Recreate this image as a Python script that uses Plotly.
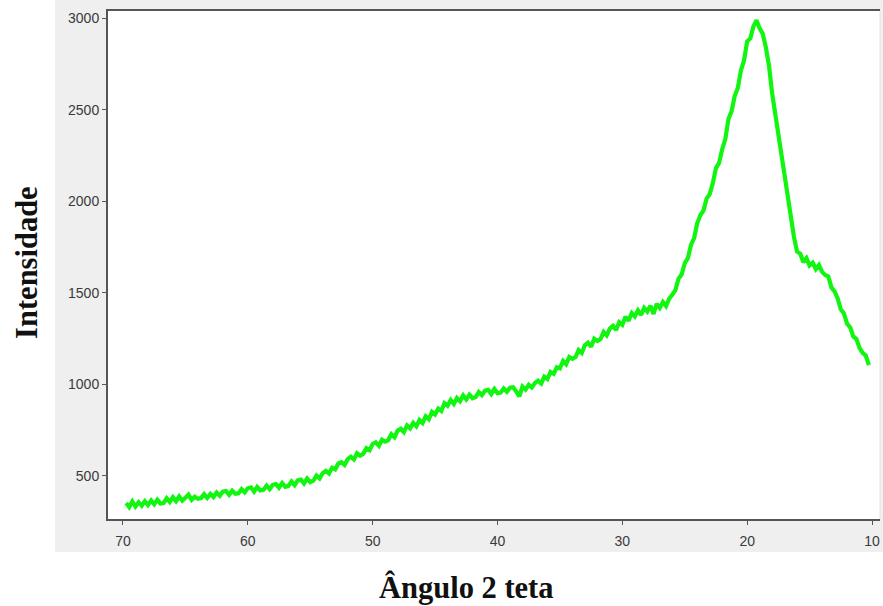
import plotly.graph_objects as go

# Diffraction angle 2θ (degrees)
angles = [
    69.75, 69.5, 69.25, 69.0, 68.75, 68.5, 68.25, 68.0, 67.75, 67.5, 67.25, 67.0,
    66.75, 66.5, 66.25, 66.0, 65.75, 65.5, 65.25, 65.0, 64.75, 64.5, 64.25, 64.0,
    63.75, 63.5, 63.25, 63.0, 62.75, 62.5, 62.25, 62.0, 61.75, 61.5, 61.25, 61.0,
    60.75, 60.5, 60.25, 60.0, 59.75, 59.5, 59.25, 59.0, 58.75, 58.5, 58.25, 58.0,
    57.75, 57.5, 57.25, 57.0, 56.75, 56.5, 56.25, 56.0, 55.75, 55.5, 55.25, 55.0,
    54.75, 54.5, 54.25, 54.0, 53.75, 53.5, 53.25, 53.0, 52.75, 52.5, 52.25, 52.0,
    51.75, 51.5, 51.25, 51.0, 50.75, 50.5, 50.25, 50.0, 49.75, 49.5, 49.25, 49.0,
    48.75, 48.5, 48.25, 48.0, 47.75, 47.5, 47.25, 47.0, 46.75, 46.5, 46.25, 46.0,
    45.75, 45.5, 45.25, 45.0, 44.75, 44.5, 44.25, 44.0, 43.75, 43.5, 43.25, 43.0,
    42.75, 42.5, 42.25, 42.0, 41.75, 41.5, 41.25, 41.0, 40.75, 40.5, 40.25, 40.0,
    39.75, 39.5, 39.25, 39.0, 38.75, 38.5, 38.25, 38.0, 37.75, 37.5, 37.25, 37.0,
    36.75, 36.5, 36.25, 36.0, 35.75, 35.5, 35.25, 35.0, 34.75, 34.5, 34.25, 34.0,
    33.75, 33.5, 33.25, 33.0, 32.75, 32.5, 32.25, 32.0, 31.75, 31.5, 31.25, 31.0,
    30.75, 30.5, 30.25, 30.0, 29.75, 29.5, 29.25, 29.0, 28.75, 28.5, 28.25, 28.0,
    27.75, 27.5, 27.25, 27.0, 26.75, 26.5, 26.25, 26.0, 25.75, 25.5, 25.25, 25.0,
    24.75, 24.5, 24.25, 24.0, 23.75, 23.5, 23.25, 23.0, 22.75, 22.5, 22.25, 22.0,
    21.75, 21.5, 21.25, 21.0, 20.75, 20.5, 20.25, 20.0, 19.75, 19.5, 19.25, 19.0,
    18.75, 18.5, 18.25, 18.0, 17.75, 17.5, 17.25, 17.0, 16.75, 16.5, 16.25, 16.0,
    15.75, 15.5, 15.25, 15.0, 14.75, 14.5, 14.25, 14.0, 13.75, 13.5, 13.25, 13.0,
    12.75, 12.5, 12.25, 12.0, 11.75, 11.5, 11.25, 11.0, 10.75, 10.5, 10.25,
]

# Intensity (counts) (noisy trace)
intensity = [
    352, 330, 361, 333, 356, 338, 362, 341, 366, 345, 370, 350,
    352, 378, 358, 384, 362, 388, 365, 381, 398, 370, 387, 375,
    379, 401, 380, 402, 385, 410, 392, 414, 418, 397, 420, 403,
    405, 428, 411, 433, 438, 415, 440, 421, 424, 447, 428, 452,
    456, 436, 462, 441, 446, 470, 450, 476, 480, 459, 486, 466,
    474, 502, 486, 515, 528, 514, 545, 536, 568, 575, 560, 592,
    605, 590, 624, 611, 622, 652, 641, 675, 684, 665, 698, 688,
    696, 728, 712, 748, 758, 740, 776, 760, 790, 771, 806, 790,
    826, 810, 850, 836, 868, 855, 898, 884, 915, 894, 926, 908,
    940, 918, 944, 925, 931, 958, 942, 966, 970, 948, 975, 952,
    955, 978, 960, 982, 985, 962, 935, 988, 972, 998, 984, 1008,
    1020, 1005, 1042, 1030, 1068, 1058, 1094, 1088, 1128, 1110, 1150, 1140,
    1150, 1188, 1172, 1214, 1228, 1206, 1250, 1238, 1248, 1286, 1268, 1305,
    1320, 1298, 1340, 1326, 1370, 1348, 1390, 1372, 1405, 1380, 1418, 1398,
    1430, 1385, 1440, 1418, 1450, 1428, 1468, 1490, 1515, 1578, 1600, 1662,
    1690, 1762, 1800, 1880, 1925, 1950, 2015, 2040, 2100, 2182, 2210, 2285,
    2340, 2450, 2492, 2575, 2620, 2715, 2770, 2875, 2890, 2955, 2990, 2945,
    2915, 2840, 2740, 2590, 2480, 2345, 2240, 2115, 2005, 1905, 1805, 1725,
    1715, 1668, 1690, 1650, 1665, 1630, 1652, 1615, 1598, 1590, 1530, 1508,
    1470, 1410, 1388, 1332, 1312, 1262, 1248, 1200, 1172, 1158, 1105,
]

x_ticks = [70, 60, 50, 40, 30, 20, 10]
y_ticks = [500, 1000, 1500, 2000, 2500, 3000]

fig = go.Figure()
fig.add_trace(go.Scatter(
    x=angles, y=intensity, mode="lines",
    line=dict(color="#11f511", width=4.2),
    hoverinfo="skip", showlegend=False,
))

tick_font = dict(family="Liberation Sans, Arial, sans-serif", size=14, color="#3a3a3a")
title_font = dict(family="Liberation Serif, Times New Roman, serif", size=30.5, color="#111111")

fig.update_layout(
    width=883, height=606,
    margin=dict(l=108, r=3, t=11, b=87),
    paper_bgcolor="white",
    plot_bgcolor="white",
    xaxis=dict(
        range=[71.2, 9.36], tickvals=x_ticks, ticktext=[str(v) for v in x_ticks],
        showgrid=False, zeroline=False,
        showline=True, linecolor="#555555", linewidth=2, mirror=True,
        ticks="outside", ticklen=4, tickwidth=1, tickcolor="#555555",
        tickfont=tick_font, ticklabelstandoff=4,
    ),
    yaxis=dict(
        range=[265, 3040], tickvals=y_ticks, ticktext=[str(v) for v in y_ticks],
        showgrid=False, zeroline=False,
        showline=True, linecolor="#555555", linewidth=2, mirror=False,
        ticks="outside", ticklen=4, tickwidth=1, tickcolor="#555555",
        tickfont=tick_font,
    ),
    shapes=[
        dict(type="rect", xref="paper", yref="paper", x0=-0.0687, x1=1.01, y0=-0.065, y1=1.03,
             fillcolor="#efefef", line=dict(width=0), layer="below"),
        dict(type="rect", xref="paper", yref="paper", x0=0, x1=1, y0=0, y1=1,
             fillcolor="white", line=dict(width=0), layer="below"),
        dict(type="line", xref="paper", yref="paper", x0=1, x1=1, y0=0, y1=1,
             line=dict(color="#e4e4e4", width=1), layer="below"),
    ],
    annotations=[
        dict(text="<b>Ângulo 2 teta</b>", xref="paper", yref="paper", x=0.464, y=-0.134,
             xanchor="center", yanchor="middle", showarrow=False, font=title_font),
        dict(text="<b>Intensidade</b>", xref="paper", yref="paper", x=-0.105, y=0.506,
             xanchor="center", yanchor="middle", showarrow=False, textangle=-90, font=title_font),
    ],
)

fig.write_html(
    "out.html",
    config={"displayModeBar": False},
    post_script="document.body.style.margin='0';document.body.style.overflow='hidden';",
)
